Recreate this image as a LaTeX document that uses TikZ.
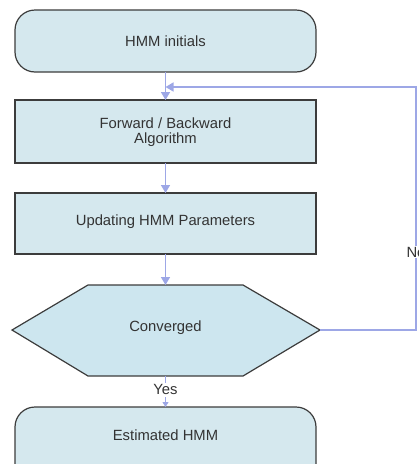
\documentclass[tikz,border=0pt]{standalone}
\usepackage{fontspec}
\setmainfont{Liberation Sans}
\usetikzlibrary{arrows.meta}
\definecolor{boxfill}{HTML}{D5E8EE}
\definecolor{hexfill}{HTML}{CDE6EF}
\definecolor{boxline}{HTML}{3C3C3C}
\definecolor{flow}{HTML}{9DA7E6}
\begin{document}
\begin{tikzpicture}[x=1pt,y=-1pt,
  txt/.style={font=\fontsize{14.8}{16}\selectfont, text=black!80, align=center},
  roundbox/.style={draw=boxline, line width=1.2pt, fill=boxfill, rounded corners=20pt},
  plainbox/.style={draw=boxline, line width=1.2pt, fill=boxfill},
  hexbox/.style={draw=boxline, line width=1.2pt, fill=hexfill},
  flowline/.style={draw=flow, line width=1.5pt, -{Triangle[width=9pt,length=8pt]}},
  lbl/.style={font=\fontsize{14.8}{16}\selectfont, text=black!80, fill=white, inner sep=1.5pt}
]
\useasboundingbox (0,0) rectangle (419,464);
\begin{scope}
\clip (0,0) rectangle (419,464);

% boxes
\draw[roundbox] (15,10) rectangle (316,72);
\node[txt] (init) at (165.5,41) {HMM initials};
\coordinate (initS) at (165.5,72);

\draw[plainbox] (15,100) rectangle (316,163);
\node[txt] (fb) at (165.5,132) {Forward / Backward\\[-1pt]Algorithm};
\coordinate (fbN) at (165.5,100);
\coordinate (fbS) at (165.5,163);

\draw[plainbox] (15,193) rectangle (316,254);
\node[txt] (upd) at (165.5,222) {Updating HMM Parameters};
\coordinate (updN) at (165.5,193);
\coordinate (updS) at (165.5,254);

% decision
\draw[hexbox] (12,330) -- (88,285) -- (243,285) -- (320,330) -- (243,376) -- (88,376) -- cycle;
\node[txt] (conv) at (165.5,328) {Converged};
\coordinate (convN) at (165.5,285);
\coordinate (convE) at (320,330);
\coordinate (convS) at (165.5,376);

\draw[roundbox] (15,407) rectangle (316,484);
\node[txt] (est) at (165.5,435) {Estimated HMM};
\coordinate (estN) at (165.5,407);

% loop corner points
\coordinate (loopR) at (416,330);
\coordinate (loopT) at (416,87);
\coordinate (join) at (165.5,87);

% connectors
\draw[flowline] (initS) -- (fbN);
\draw[flowline] (fbS) -- (updN);
\draw[flowline] (updS) -- (convN);
\draw[flowline, line width=0.8pt, -{Triangle[width=6pt,length=5pt]}] (convS) -- node[lbl, pos=0.45] (yes) {Yes} (estN);
\draw[flowline] (convE) -- (loopR) -- node[lbl, pos=0.32, inner sep=1pt] (no) {No} (loopT) -- (join);
\end{scope}
\end{tikzpicture}
\end{document}
